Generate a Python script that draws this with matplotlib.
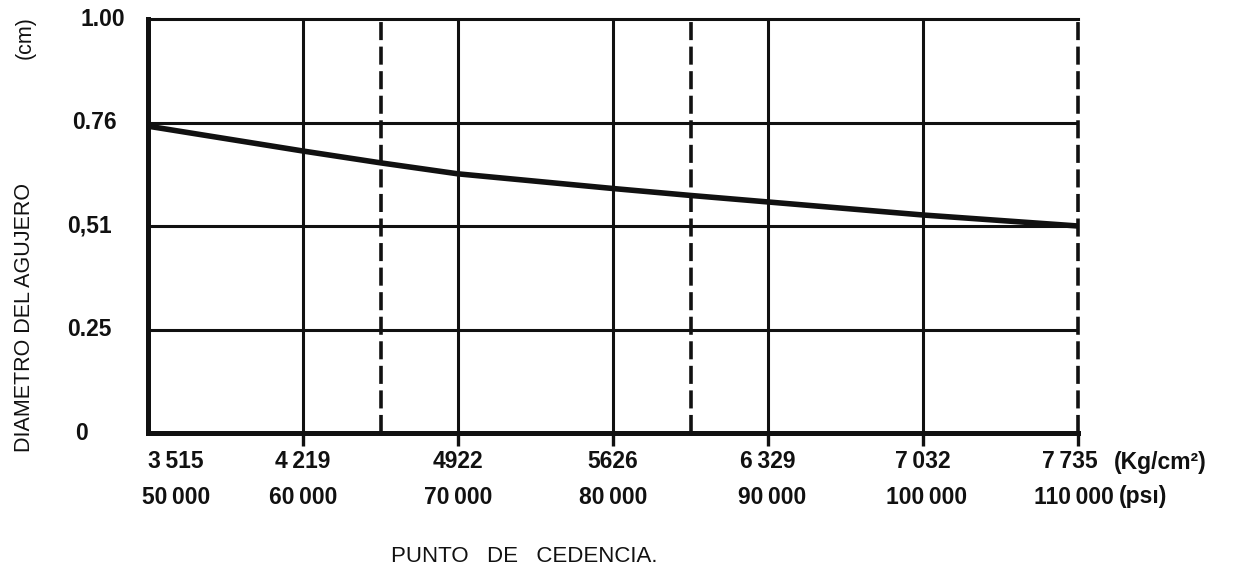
import matplotlib
matplotlib.use("Agg")
import matplotlib.pyplot as plt

plt.rcParams["font.family"] = ["Liberation Sans", "DejaVu Sans"]

# yield point (psi) vs hole diameter (cm)
psi = [50000, 60000, 65000, 70000, 80000, 85000, 90000, 100000, 110000]
diametro = [0.753, 0.692, 0.663, 0.636, 0.600, 0.583, 0.567, 0.535, 0.508]

psi_grid = [60000, 70000, 80000, 90000, 100000]
psi_dashed = [65000, 85000, 110000]
psi_ticks = [50000, 60000, 70000, 80000, 90000, 100000, 110000]
kg_labels = ["3\u2009515", "4\u2009219", "4922", "5626", "6\u2009329", "7\u2009032", "7\u2009735"]
psi_labels = ["50\u2009000", "60\u2009000", "70\u2009000", "80\u2009000", "90\u2009000",
              "100\u2009000", "110\u2009000"]

y_ticks = [0, 0.254, 0.508, 0.762, 1.016]
y_labels = ["0", "0.25", "0,51", "0.76", "1.00"]

ink = "#111111"

fig = plt.figure(figsize=(12.39, 5.71), dpi=100)
ax = fig.add_axes([148 / 1239, 1 - 433 / 571, 930 / 1239, 414 / 571])
ax.set_xlim(50000, 110000)
ax.set_ylim(0, 1.016)

for s in ["left", "bottom"]:
    ax.spines[s].set_linewidth(3.6)
    ax.spines[s].set_color(ink)
ax.spines["top"].set_linewidth(2.2)
ax.spines["top"].set_color(ink)
ax.spines["right"].set_visible(False)

for x in psi_grid:
    ax.axvline(x, color=ink, lw=2.2, zorder=1)
for x in psi_dashed:
    ax.axvline(x, color=ink, lw=2.6, ls=(0, (5, 1.8)), zorder=1, clip_on=False)
for y in y_ticks[1:-1]:
    ax.axhline(y, color=ink, lw=2.2, zorder=1)

ax.plot(psi, diametro, color=ink, lw=4, solid_capstyle="butt", zorder=3)

ax.set_xticks(psi_ticks[1:])
ax.set_yticks([])
ax.tick_params(axis="x", direction="out", length=9, width=2.4, color=ink, labelbottom=False)

# two rows of x labels: kg/cm2 on top, psi below
txt = dict(fontsize=16.5, fontweight="bold", color=ink, va="center")
kg_shift = [28, 0, 0, 0, 0, 0, -8]
psi_shift = [28, 0, 0, 0, 4, 4, -4]
for x, k, p, dk, dp in zip(psi_ticks, kg_labels, psi_labels, kg_shift, psi_shift):
    ax.annotate(k, xy=(x, 0), xycoords=("data", "axes fraction"), xytext=(dk, -29),
                textcoords="offset pixels", ha="center", **txt)
    ax.annotate(p, xy=(x, 0), xycoords=("data", "axes fraction"), xytext=(dp, -64),
                textcoords="offset pixels", ha="center", **txt)
ax.annotate("(Kg/cm²)", xy=(110000, 0), xycoords=("data", "axes fraction"),
            xytext=(36, -29), textcoords="offset pixels", ha="left", **txt)
ax.annotate("(psı)", xy=(110000, 0), xycoords=("data", "axes fraction"),
            xytext=(41, -64), textcoords="offset pixels", ha="left", **txt)

y_shift = [-73, -81, -81, -76, -68]
for y, lab, dx in zip(y_ticks, y_labels, y_shift):
    ax.annotate(lab, xy=(0, y), xycoords=("axes fraction", "data"), xytext=(dx, 0),
                textcoords="offset pixels", ha="left", **txt)

fig.text(25 / 1239, 1 - 318 / 571, "DIAMETRO DEL AGUJERO", rotation=90, ha="center",
         va="center", fontsize=15.5, color=ink)
fig.text(25 / 1239, 1 - 38 / 571, "(cm)", rotation=90, ha="center", va="center",
         fontsize=15.5, color=ink)
fig.text(524 / 1239, 1 - 557 / 571, "PUNTO   DE   CEDENCIA.", ha="center", va="center",
         fontsize=16, color=ink)

fig.savefig("out.png", dpi=100)
